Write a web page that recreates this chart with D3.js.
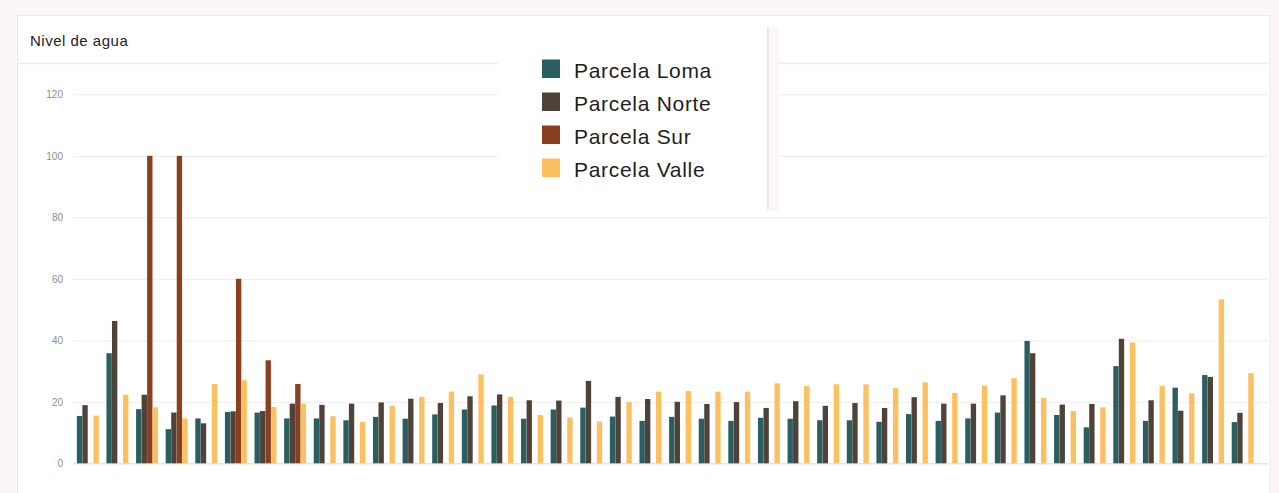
<!DOCTYPE html>
<html>
<head>
<meta charset="utf-8">
<script src="https://cdn.jsdelivr.net/npm/d3@7"></script>
<style>
  html, body { margin: 0; padding: 0; background: #fcf7f6; }
  svg { display: block; }
</style>
</head>
<body>
<svg id="chart" width="1279" height="493"></svg>
<script>
const categories = ["01","02","03","04","05","06","07","08","09","10",
  "11","12","13","14","15","16","17","18","19","20",
  "21","22","23","24","25","26","27","28","29","30",
  "31","32","33","34","35","36","37","38","39","40"];
const seriesNames = ["Parcela Loma", "Parcela Norte", "Parcela Sur", "Parcela Valle"];
const seriesColors = ["#2a5e61", "#4e4239", "#8a3f1e", "#fdc060"];
const loma = [15.4,35.8,17.6,11.1,14.6,16.7,16.5,14.6,14.6,14.0,
  15.1,14.5,15.9,17.5,18.8,14.5,17.5,18.1,15.2,13.8,
  15.1,14.5,13.8,14.8,14.5,14.0,14.0,13.5,16.0,13.8,
  14.6,16.5,39.8,15.7,11.7,31.6,13.8,24.6,28.7,13.4];
const norte = [18.9,46.3,22.3,16.5,13.0,16.9,17.0,19.4,19.0,19.4,
  19.8,21.0,19.6,21.8,22.4,20.5,20.4,26.8,21.6,20.9,
  20.0,19.3,19.9,18.0,20.2,18.7,19.6,18.0,21.5,19.4,
  19.4,22.1,35.8,19.1,19.3,40.5,20.5,17.1,28.1,16.4];
const sur = [null,null,100,100,null,60,33.5,25.8,null,null,
  null,null,null,null,null,null,null,null,null,null,
  null,null,null,null,null,null,null,null,null,null,
  null,null,null,null,null,null,null,null,null,null];
const valle = [15.5,22.3,18.2,14.6,25.8,27.0,18.3,19.4,15.3,13.5,
  18.7,21.6,23.3,28.9,21.6,15.7,14.9,13.6,19.9,23.3,
  23.5,23.3,23.3,26.0,25.1,25.7,25.7,24.5,26.3,22.9,
  25.3,27.7,21.3,17.0,18.2,39.3,25.2,22.8,53.3,29.3];
const yTicks = [0, 20, 40, 60, 80, 100, 120];
const title = "Nivel de agua";

const seriesValues = [loma, norte, sur, valle];
const svg = d3.select("#chart");

// Card
svg.append("rect").attr("x", 17.5).attr("y", 15.5).attr("width", 1252.5).attr("height", 490)
  .attr("fill", "#ffffff").attr("stroke", "#e9e9e9").attr("stroke-width", 1);
svg.append("text").attr("x", 30).attr("y", 46).text(title)
  .attr("font-family", "'Liberation Sans', Arial, sans-serif").attr("font-size", 15)
  .attr("letter-spacing", 0.5).attr("fill", "#222222");
svg.append("line").attr("x1", 18).attr("x2", 1270).attr("y1", 63.5).attr("y2", 63.5)
  .attr("stroke", "#ececec").attr("stroke-width", 1.5);

const plotLeft = 73, plotRight = 1257.5, gridRight = 1268;
const y = d3.scaleLinear().domain([0, 120]).range([463.3, 94.3]);
const x0 = d3.scaleBand().domain(categories).range([plotLeft, plotRight])
  .paddingInner(0.26).paddingOuter(0.13);
const x1 = d3.scaleBand().domain(seriesNames).range([0, x0.bandwidth()]).paddingInner(0.03);
const color = d3.scaleOrdinal().domain(seriesNames).range(seriesColors);

// Grid + y labels
const yAxis = d3.axisLeft(y).tickValues(yTicks).tickSize(-(gridRight - plotLeft)).tickPadding(10);
const gy = svg.append("g").attr("transform", `translate(${plotLeft},0)`).call(yAxis);
gy.select(".domain").remove();
gy.selectAll(".tick line").attr("stroke", d => d === 0 ? "#e4e4e4" : "#e9eef3").attr("stroke-width", d => d === 0 ? 1.5 : 1);
gy.selectAll(".tick text").attr("font-family", "'Liberation Sans', Arial, sans-serif")
  .attr("font-size", 10).attr("fill", "#8e8e8e");

// Bars
const rows = categories.map((c, i) => ({ cat: c, vals: seriesNames.map((s, k) => ({ s, v: seriesValues[k][i] })) }));
const groups = svg.append("g").selectAll("g").data(rows).join("g")
  .attr("transform", d => `translate(${x0(d.cat)},0)`);
groups.selectAll("rect").data(d => d.vals.filter(e => e.v != null)).join("rect")
  .attr("x", d => x1(d.s)).attr("width", x1.bandwidth())
  .attr("y", d => y(d.v)).attr("height", d => y(0) - y(d.v))
  .attr("fill", d => color(d.s));

// Legend box
const lg = svg.append("g");
lg.append("rect").attr("x", 498).attr("y", 27).attr("width", 269).attr("height", 183).attr("fill", "#ffffff");
lg.append("rect").attr("x", 769).attr("y", 27).attr("width", 10).attr("height", 183).attr("fill", "#fcf7f6");
lg.append("rect").attr("x", 767).attr("y", 27).attr("width", 2).attr("height", 183).attr("fill", "#e8e8e8");
const items = lg.selectAll("g.item").data(seriesNames).join("g").attr("class", "item")
  .attr("transform", (d, i) => `translate(542,${59.5 + i * 33})`);
items.append("rect").attr("width", 18).attr("height", 18.5).attr("fill", d => color(d));
items.append("text").attr("x", 32).attr("y", 18).text(d => d)
  .attr("font-family", "'Liberation Sans', Arial, sans-serif").attr("font-size", 21)
  .attr("letter-spacing", 0.7).attr("fill", "#1e1e1e");
</script>
</body>
</html>
